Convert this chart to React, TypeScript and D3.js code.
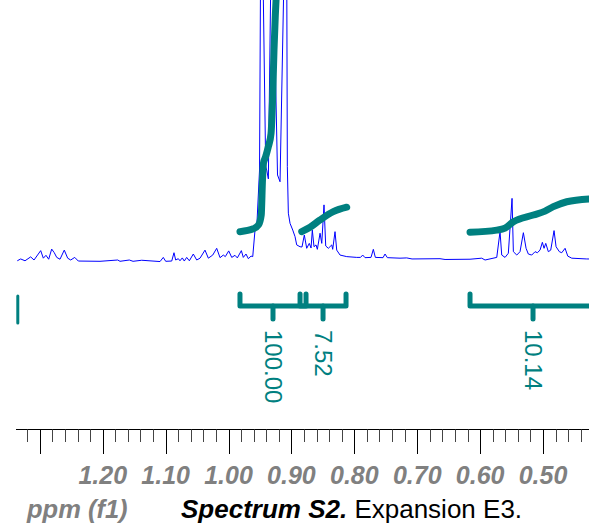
import React from "react";
import * as d3 from "d3";

// Spectrum trace: [ppm, relative intensity]
const spectrum: [number, number][] = [
  [1.3358, -0.3], [1.3304, 0.4], [1.3235, -0.3], [1.3145, 1.2], [1.3092, 0],
  [1.2986, 3.6], [1.2944, 0.7], [1.2902, 1.8], [1.2859, 0.3], [1.2811, 4.2],
  [1.277, 2.8], [1.2731, 1.0], [1.2679, 0.3], [1.2611, 3.8], [1.2557, 0.7],
  [1.2509, 0], [1.2445, 1.0], [1.2388, -0.4], [1.2043, -0.5], [1.1761, 0],
  [1.1725, -0.5], [1.1577, 0], [1.1518, -0.5], [1.138, -0.1], [1.1089, -0.6],
  [1.1037, 1.0], [1.0999, -0.5], [1.0903, -0.4], [1.0867, 2.8], [1.084, 0],
  [1.0798, 0.5], [1.0772, -0.3], [1.0735, 0.8], [1.0703, -0.4], [1.0665, 1.0],
  [1.0623, -0.3], [1.056, 2.3], [1.0506, 0], [1.0453, 0.7], [1.0374, 3.8],
  [1.0321, 0.7], [1.0251, 1.9], [1.0188, 4.5], [1.0135, 0.9], [1.0083, 1.9],
  [1.0051, 1.3], [0.9997, 3.5], [0.9949, 1.0], [0.9897, 1.8], [0.986, 0.8],
  [0.9796, 3.6], [0.9765, 1.0], [0.9722, 2.3], [0.9685, 0.5], [0.9642, 1.5],
  [0.9615, 1.3], [0.9579, 11.5], [0.9552, 12.3], [0.9507, 34.6], [0.9491, 110],
  [0.9472, 150], [0.9452, 110], [0.9409, 35.8], [0.9393, 34.6], [0.9367, 31.2],
  [0.9332, 100], [0.9304, 150], [0.9277, 100], [0.9221, 32.7], [0.9181, 30.1],
  [0.9126, 100], [0.9099, 150], [0.9073, 100], [0.9065, 35.9], [0.9049, 18.0],
  [0.9022, 14.1], [0.8979, 11.5], [0.8943, 9.0], [0.8916, 5.8], [0.8863, 5.1],
  [0.8832, 5.0], [0.8795, 9.6], [0.8757, 4.5], [0.8716, 6.4], [0.8688, 4.6],
  [0.8668, 11.5], [0.8641, 5.1], [0.8609, 5.8], [0.8588, 4.1], [0.8545, 10.3],
  [0.8518, 6.4], [0.8482, 21.2], [0.8455, 5.4], [0.8413, 4.5], [0.8359, 5.8],
  [0.8344, 4.1], [0.8307, 10.9], [0.828, 3.8], [0.8227, 1.9], [0.8121, 1.3],
  [0.7962, 1.0], [0.7902, 1.0], [0.7867, 1.9], [0.783, 0.9], [0.7735, 1.0],
  [0.7698, 4.1], [0.7666, 1.0], [0.7544, 0.9], [0.7512, 2.3], [0.7475, 0.9],
  [0.7274, 0.7], [0.7167, 0.8], [0.7083, 0.4], [0.6638, 0.5], [0.6558, 0.2],
  [0.6161, 0.3], [0.5975, 0.7], [0.5922, 0], [0.5736, 1.0], [0.5684, 10.9],
  [0.5657, 1.9], [0.5604, 1.0], [0.5552, 2.6], [0.5493, 23.7], [0.5472, 3.2],
  [0.5418, 1.9], [0.5366, 3.2], [0.5313, 10.5], [0.527, 4.5], [0.5234, 2.3],
  [0.518, 1.9], [0.5127, 3.2], [0.5091, 2.8], [0.5048, 3.8], [0.5011, 6.8],
  [0.4984, 4.5], [0.4957, 6.4], [0.4916, 3.2], [0.4878, 3.8], [0.4825, 11.3],
  [0.4793, 5.1], [0.4741, 3.2], [0.4703, 2.8], [0.465, 4.5], [0.4607, 1.5],
  [0.4544, 0.7], [0.4305, 0.4], [0.4269, 0.4],
];

// Integral curves: [ppm, value]
const integral1: [number, number][] = [
  [0.9818, 10.9], [0.9606, 12.0], [0.9523, 13.5], [0.948, 17.3], [0.946, 30.8],
  [0.9444, 37.3], [0.9412, 39.6], [0.9367, 43.6], [0.9324, 48.7], [0.93, 61.5],
  [0.9277, 80.8], [0.9256, 94.2], [0.9237, 103.8],
];
const integral2: [number, number][] = [
  [0.8836, 10.9], [0.8704, 12.6], [0.8545, 15.4], [0.8334, 18.6], [0.8121, 20.3],
];
const integral3: [number, number][] = [
  [0.6161, 10.7], [0.5736, 11.5], [0.5604, 12.3], [0.5472, 14.7], [0.5154, 17.3],
  [0.4968, 18.8], [0.4836, 20.5], [0.4623, 22.4], [0.4269, 23.5],
];
const integrals = [integral1, integral2, integral3];

// Integration regions: from ppm, to ppm, value label
const regionFrom = [0.9818, 0.8863, 0.6161];
const regionTo = [0.8768, 0.8132, 0.4158];
const regionLabels = ["100.00", "7.52", "10.14"];
const edgeMarks = [1.335];

// Axis
const majorTicks = [1.3, 1.2, 1.1, 1.0, 0.9, 0.8, 0.7, 0.6, 0.5];
const tickLabels = ["", "1.20", "1.10", "1.00", "0.90", "0.80", "0.70", "0.60", "0.50"];
const minorTicks = [
  1.32, 1.28, 1.26, 1.24, 1.22, 1.18, 1.16, 1.14, 1.12, 1.08, 1.06, 1.04, 1.02,
  0.98, 0.96, 0.94, 0.92, 0.88, 0.86, 0.84, 0.82, 0.78, 0.76, 0.74, 0.72,
  0.68, 0.66, 0.64, 0.62, 0.58, 0.56, 0.54, 0.52, 0.48, 0.46, 0.44,
];

const W = 589;
const H = 531;
const TEAL = "#008080";
const FONT = "Liberation Sans, Arial, sans-serif";

export default function App() {
  const x = d3.scaleLinear().domain([1.36328, 0.42696]).range([0, W]);
  const y = d3.scaleLinear().domain([0, 100]).range([260, 0]);

  const specLine = d3
    .line<[number, number]>()
    .x((d) => x(d[0]))
    .y((d) => y(d[1]));
  const intLine = d3
    .line<[number, number]>()
    .x((d) => x(d[0]))
    .y((d) => y(d[1]))
    .curve(d3.curveMonotoneX);

  const axisY = 429.5;
  const bracketTop = 294;
  const bracketBar = 306;
  const bracketTick = 319;

  return (
    <svg
      width={W}
      height={H}
      style={{ position: "absolute", left: 0, top: 0, display: "block", background: "#fff" }}
    >
      <defs>
        <clipPath id="plot">
          <rect x={0} y={0} width={W} height={290} />
        </clipPath>
      </defs>
      <g clipPath="url(#plot)">
        <path d={specLine(spectrum) || ""} fill="none" stroke="#0000ff" strokeWidth={1} strokeLinejoin="round" />
        {integrals.map((d, i) => (
          <path
            key={i}
            d={intLine(d) || ""}
            fill="none"
            stroke={TEAL}
            strokeWidth={7}
            strokeLinecap="round"
            strokeLinejoin="round"
          />
        ))}
      </g>

      {/* integration brackets */}
      {regionFrom.map((f, i) => {
        const x1 = x(f);
        const x2 = x(regionTo[i]);
        const cx = (x1 + x2) / 2;
        return (
          <g key={i} stroke={TEAL} strokeWidth={5} strokeLinecap="round" fill="none">
            <path d={`M${x1},${bracketTop}V${bracketBar}H${x2}V${bracketTop}`} strokeLinejoin="round" />
            <line x1={cx} x2={cx} y1={bracketBar} y2={bracketTick} />
            <text
              transform={`translate(${cx},330) rotate(90)`}
              dy="0.35em"
              fill={TEAL}
              stroke="none"
              fontFamily={FONT}
              fontSize={24}
            >
              {regionLabels[i]}
            </text>
          </g>
        );
      })}
      {edgeMarks.map((m, i) => (
        <line key={i} x1={x(m)} x2={x(m)} y1={296} y2={323} stroke={TEAL} strokeWidth={3} strokeLinecap="round" />
      ))}

      {/* axis */}
      <line x1={16} x2={W} y1={axisY} y2={axisY} stroke="#000" strokeWidth={1} />
      {minorTicks.map((t) => {
        const px = Math.round(x(t)) + 0.5;
        return <line key={"m" + t} x1={px} x2={px} y1={axisY} y2={442} stroke="#444" strokeWidth={1} />;
      })}
      {majorTicks.map((t, i) => {
        const px = Math.round(x(t)) + 0.5;
        return (
          <g key={"M" + t}>
            <line x1={px} x2={px} y1={axisY} y2={454} stroke="#000" strokeWidth={1} />
            {tickLabels[i] && (
              <text
                x={x(t)}
                y={484}
                textAnchor="middle"
                fontFamily={FONT}
                fontSize={25}
                fontWeight="bold"
                fontStyle="italic"
                fill="#808080"
              >
                {tickLabels[i]}
              </text>
            )}
          </g>
        );
      })}
      <text x={27} y={518} fontFamily={FONT} fontSize={25.5} fontWeight="bold" fontStyle="italic" fill="#808080">
        ppm (f1)
      </text>
      <text x={181} y={518} fontFamily={FONT} fontSize={26} fill="#000">
        <tspan fontWeight="bold" fontStyle="italic">Spectrum S2.</tspan>
        <tspan> Expansion E3.</tspan>
      </text>
    </svg>
  );
}
